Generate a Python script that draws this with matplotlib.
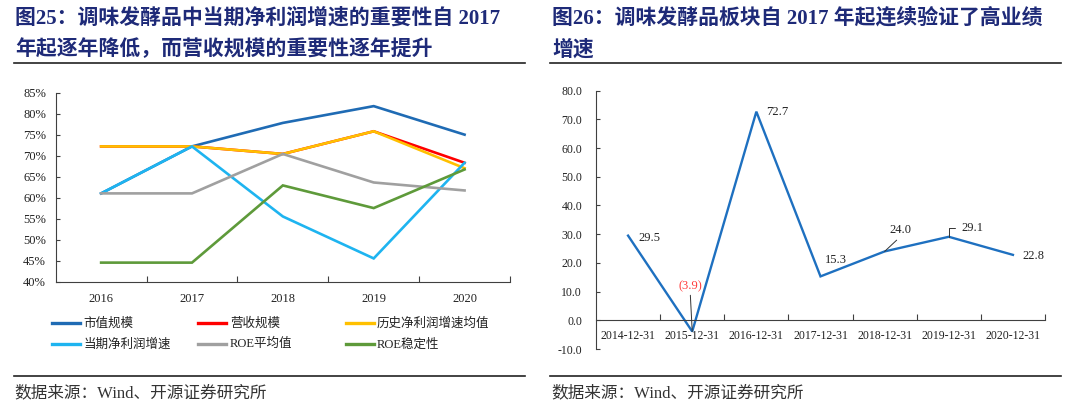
import matplotlib
matplotlib.use('Agg')
import matplotlib.pyplot as plt
from matplotlib.lines import Line2D
from matplotlib.ticker import FuncFormatter, FixedLocator

W, H = 1080, 412
SERIF_CJK = ['Liberation Serif', 'Noto Sans CJK SC']
CJK = ['Noto Sans CJK SC', 'DejaVu Sans']
plt.rcParams['font.family'] = SERIF_CJK
plt.rcParams['axes.unicode_minus'] = False

# 图25 数据
years = ['2016', '2017', '2018', '2019', '2020']
shizhi_guimo = [61.0, 72.2, 77.8, 81.8, 75.0]
yingshou_guimo = [72.2, 72.2, 70.4, 75.8, 68.3]
lishi_zengsu = [72.2, 72.2, 70.4, 75.8, 67.0]
dangqi_zengsu = [61.0, 72.2, 55.5, 45.5, 68.3]
roe_mean = [61.0, 61.0, 70.4, 63.6, 61.7]
roe_std = [44.5, 44.5, 62.9, 57.5, 66.7]

series_names = ['市值规模', '营收规模', '历史净利润增速均值',
                '当期净利润增速', 'ROE平均值', 'ROE稳定性']
series_vals = [shizhi_guimo, yingshou_guimo, lishi_zengsu,
               dangqi_zengsu, roe_mean, roe_std]
series_colors = ['#1F6BB4', '#FF0000', '#FFC000', '#1EB4F0', '#A0A0A0', '#5E9A3A']

# 图26 数据
dates = ['2014-12-31', '2015-12-31', '2016-12-31', '2017-12-31',
         '2018-12-31', '2019-12-31', '2020-12-31']
growth = [29.5, -3.9, 72.7, 15.3, 24.0, 29.1, 22.8]


def box(x0, y0, x1, y1):
    # pixel box (top-left origin) -> figure coords
    return [x0 / W, 1 - y1 / H, (x1 - x0) / W, (y1 - y0) / H]


def fx(x):
    return x / W


def fy(y):
    return 1 - y / H


fig = plt.figure(figsize=(W / 100, H / 100), dpi=100)
title_color = '#1E2A78'

# 标题
fig.text(fx(15), fy(18), '图25：调味发酵品中当期净利润增速的重要性自 2017',
         fontsize=15, fontweight='bold', color=title_color, va='center')
fig.text(fx(15), fy(50), '年起逐年降低，而营收规模的重要性逐年提升',
         fontsize=15, fontweight='bold', color=title_color, va='center')
fig.text(fx(552), fy(18), '图26：调味发酵品板块自 2017 年起连续验证了高业绩',
         fontsize=15, fontweight='bold', color=title_color, va='center')
fig.text(fx(552), fy(50), '增速',
         fontsize=15, fontweight='bold', color=title_color, va='center')

for x0, x1 in [(14, 525), (550, 1061)]:
    fig.add_artist(Line2D([fx(x0), fx(x1)], [fy(62.7), fy(62.7)], color='#222222', lw=1.2))
    fig.add_artist(Line2D([fx(x0), fx(x1)], [fy(376.3), fy(376.3)], color='#222222', lw=1.2))

fig.text(fx(14), fy(393), '数据来源：Wind、开源证券研究所', fontsize=12,
         color='#333333', va='center')
fig.text(fx(551), fy(393), '数据来源：Wind、开源证券研究所', fontsize=12,
         color='#333333', va='center')

# 左图
ax1 = fig.add_axes(box(55.7, 92.7, 510, 281.5))
xs = list(range(len(years)))
for name, vals, c in zip(series_names, series_vals, series_colors):
    ax1.plot(xs, vals, color=c, lw=1.9, solid_joinstyle='miter')
ax1.set_xlim(-0.5, len(years) - 0.5)
ax1.set_ylim(40, 85)
ax1.set_yticks(range(40, 86, 5))
ax1.yaxis.set_major_formatter(FuncFormatter(lambda v, p: f'{v:.0f}%'))
ax1.set_xticks(xs)
ax1.set_xticklabels(years)
ax1.xaxis.set_minor_locator(FixedLocator([i + 0.5 for i in xs]))
ax1.tick_params(axis='x', which='major', length=0, labelsize=9, pad=8, colors='#222222')
ax1.tick_params(axis='x', which='minor', direction='in', length=4, width=0.8, color='#404040')
ax1.tick_params(axis='y', direction='in', length=3, width=0.8, labelsize=9, pad=7,
                color='#404040', labelcolor='#222222')
for s in ['top', 'right']:
    ax1.spines[s].set_visible(False)
for s in ['left', 'bottom']:
    ax1.spines[s].set_color('#404040')
    ax1.spines[s].set_linewidth(0.8)

# 左图图例
leg_cols = [(51.7, 83.3), (198, 230), (346, 377)]
leg_rows = [323.3, 344.3]
for i, (name, c) in enumerate(zip(series_names, series_colors)):
    r, col = divmod(i, 3)
    lx, tx = leg_cols[col]
    y = leg_rows[r]
    fig.add_artist(Line2D([fx(lx), fx(lx + 28)], [fy(y), fy(y)], color=c, lw=2.4))
    fig.text(fx(tx), fy(y), name, fontsize=9, va='center', color='#222222')

# 右图
ax2 = fig.add_axes(box(596, 90.7, 1045, 349))
xs2 = list(range(len(dates)))
ax2.plot(xs2, growth, color='#1E70C0', lw=1.7, solid_joinstyle='miter')
ax2.set_xlim(-0.5, len(dates) - 0.5)
ax2.set_ylim(-10, 80)
ax2.set_yticks(range(-10, 81, 10))
ax2.yaxis.set_major_formatter(FuncFormatter(lambda v, p: f'{v:.1f}'))
ax2.set_xticks(xs2)
ax2.set_xticklabels(dates)
ax2.xaxis.set_minor_locator(FixedLocator([i + 0.5 for i in xs2]))
ax2.spines['bottom'].set_position(('data', 0))
ax2.tick_params(axis='x', which='major', length=0, labelsize=8.5, pad=7, colors='#222222')
ax2.tick_params(axis='x', which='minor', direction='in', length=4, width=0.8, color='#404040')
ax2.tick_params(axis='y', direction='in', length=3, width=0.8, labelsize=8.5, pad=10,
                color='#404040', labelcolor='#222222')
for s in ['top', 'right']:
    ax2.spines[s].set_visible(False)
for s in ['left', 'bottom']:
    ax2.spines[s].set_color('#404040')
    ax2.spines[s].set_linewidth(0.8)

# 数据标签 (偏移为像素)
label_offsets = [(10, -2, 'left', None),
                 (-2, 45, 'center', 'vline'),
                 (10, 0, 'left', None),
                 (4, 16, 'left', None),
                 (5, 21, 'left', 'diag'),
                 (13, 9, 'left', 'angle'),
                 (10, -1, 'left', None)]
for i, (v, (dx, dy, ha, lead)) in enumerate(zip(growth, label_offsets)):
    txt = f'({abs(v):.1f})' if v < 0 else f'{v:.1f}'
    col = '#FF3B3B' if v < 0 else '#222222'
    kw = dict(xy=(i, v), xytext=(dx, dy), textcoords='offset pixels',
              ha=ha, va='center', fontsize=9, color=col)
    if lead == 'vline':
        kw['arrowprops'] = dict(arrowstyle='-', color='#333333', lw=0.7,
                                shrinkA=0, shrinkB=0, relpos=(0.5, 0))
    elif lead == 'diag':
        kw['arrowprops'] = dict(arrowstyle='-', color='#333333', lw=0.7,
                                shrinkA=1, shrinkB=0, relpos=(0.5, 0))
    elif lead == 'angle':
        kw['arrowprops'] = dict(arrowstyle='-', color='#333333', lw=0.7,
                                shrinkA=3, shrinkB=0, relpos=(0, 0.5),
                                connectionstyle='angle,angleA=0,angleB=90,rad=0')
    ax2.annotate(txt, **kw)

fig.savefig('out.png', dpi=100)
